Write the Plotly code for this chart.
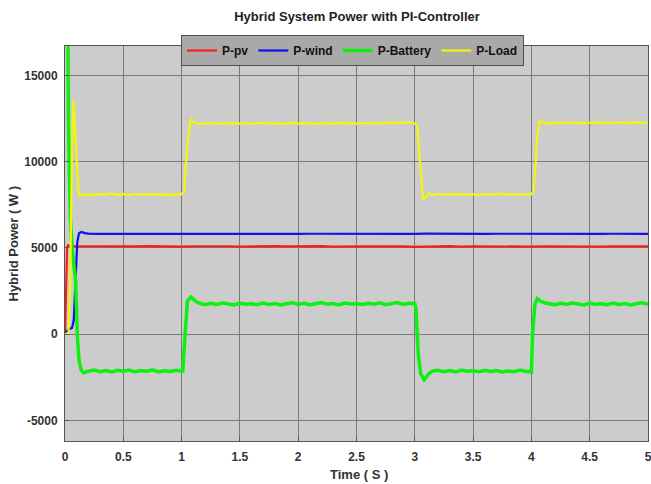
import plotly.graph_objects as go

# ---------------- data ----------------
t_pv = [0, 0.005, 0.012, 0.018, 0.025, 0.04, 0.1, 0.2, 0.3, 0.4, 0.5, 0.6, 0.7, 0.8, 0.9, 1.0,
        1.1, 1.2, 1.3, 1.4, 1.5, 1.6, 1.7, 1.8, 1.9, 2.0, 2.1, 2.2, 2.3, 2.4, 2.5, 2.6, 2.7,
        2.8, 2.9, 3.0, 3.1, 3.2, 3.3, 3.4, 3.5, 3.6, 3.7, 3.8, 3.9, 4.0, 4.1, 4.2, 4.3, 4.4,
        4.5, 4.6, 4.7, 4.8, 4.9, 5.0]
p_pv = [0, 1500, 4000, 5000, 5150, 5100, 5090, 5080, 5100, 5070, 5090, 5080, 5100, 5080, 5090, 5070,
        5090, 5100, 5080, 5090, 5070, 5090, 5080, 5100, 5080, 5090, 5080, 5100, 5070, 5090, 5080, 5090,
        5080, 5100, 5080, 5060, 5090, 5080, 5100, 5070, 5090, 5080, 5090, 5100, 5080, 5070,
        5090, 5080, 5100, 5080, 5090, 5070, 5090, 5080, 5100, 5080]

t_wind = [0, 0.02, 0.04, 0.06, 0.075, 0.09, 0.105, 0.12, 0.14, 0.17, 0.2, 0.3, 0.4, 0.5, 0.6,
          0.7, 0.8, 0.9, 1.0, 1.1, 1.2, 1.3, 1.4, 1.5, 1.6, 1.7, 1.8, 1.9, 2.0, 2.1, 2.2, 2.3,
          2.4, 2.5, 2.6, 2.7, 2.8, 2.9, 3.0, 3.1, 3.2, 3.3, 3.4, 3.5, 3.6, 3.7, 3.8, 3.9, 4.0,
          4.1, 4.2, 4.3, 4.4, 4.5, 4.6, 4.7, 4.8, 4.9, 5.0]
p_wind = [0, 200, 300, 350, 800, 3500, 5300, 5850, 5920, 5850, 5820, 5810, 5815, 5805, 5810,
          5815, 5810, 5805, 5815, 5810, 5810, 5805, 5815, 5810, 5810, 5815, 5805, 5810, 5810, 5815,
          5810, 5805, 5810, 5815, 5810, 5805, 5810, 5815, 5810, 5820, 5810, 5815, 5810, 5805, 5810,
          5815, 5810, 5805, 5815, 5810, 5810, 5805, 5815, 5810, 5810, 5815, 5805, 5810, 5810]

t_bat = [0.018, 0.022, 0.03, 0.04, 0.046, 0.06, 0.08, 0.091, 0.1, 0.105, 0.12, 0.14, 0.16, 0.2,
         0.25, 0.3, 0.35, 0.4, 0.45, 0.5, 0.55, 0.6, 0.65, 0.7, 0.75, 0.8, 0.85, 0.9, 0.95, 1.0,
         1.01, 1.03, 1.05, 1.08, 1.12, 1.15, 1.2, 1.25, 1.3, 1.35, 1.4, 1.45, 1.5, 1.55, 1.6,
         1.65, 1.7, 1.75, 1.8, 1.85, 1.9, 1.95, 2.0, 2.05, 2.1, 2.15, 2.2, 2.25, 2.3, 2.35, 2.4,
         2.45, 2.5, 2.55, 2.6, 2.65, 2.7, 2.75, 2.8, 2.85, 2.9, 2.95, 3.0, 3.01, 3.03, 3.05,
         3.08, 3.12, 3.15, 3.2, 3.25, 3.3, 3.35, 3.4, 3.45, 3.5, 3.55, 3.6, 3.65, 3.7, 3.75,
         3.8, 3.85, 3.9, 3.95, 4.0, 4.01, 4.03, 4.05, 4.08, 4.12, 4.15, 4.2, 4.25, 4.3, 4.35,
         4.4, 4.45, 4.5, 4.55, 4.6, 4.65, 4.7, 4.75, 4.8, 4.85, 4.9, 4.95, 5.0]
p_bat = [25000, 16700, 12000, 8500, 6800, 5000, 3800, 3100, 1200, 0, -1500, -2100, -2250, -2150,
         -2080, -2180, -2120, -2200, -2100, -2160, -2090, -2190, -2120, -2150, -2080, -2200, -2130, -2170, -2100, -2180,
         -2150, 0, 1900, 2150, 1900, 1800, 1700, 1780, 1720, 1800, 1740, 1690, 1790, 1730, 1760,
         1700, 1800, 1720, 1770, 1690, 1760, 1810, 1720, 1780, 1700, 1760, 1820, 1730, 1770, 1690, 1800,
         1740, 1760, 1710, 1790, 1730, 1810, 1700, 1760, 1830, 1720, 1780, 1760, 1500, -1200, -2300,
         -2650, -2300, -2150, -2100, -2180, -2120, -2200, -2090, -2160, -2130, -2190, -2100, -2170, -2110, -2200,
         -2140, -2180, -2090, -2160, -2200, 0, 1700, 2050, 1900, 1800, 1750, 1700, 1780, 1720, 1800,
         1740, 1690, 1790, 1730, 1760, 1700, 1800, 1720, 1770, 1690, 1760, 1810, 1730]

t_load = [0, 0.03, 0.045, 0.06, 0.072, 0.085, 0.1, 0.115, 0.125, 0.15, 0.2, 0.25, 0.3, 0.35,
          0.4, 0.45, 0.5, 0.55, 0.6, 0.65, 0.7, 0.75, 0.8, 0.85, 0.9, 0.95, 1.0, 1.02, 1.05,
          1.075, 1.085, 1.1, 1.15, 1.2, 1.25, 1.3, 1.35, 1.4, 1.45, 1.5, 1.55, 1.6, 1.65, 1.7,
          1.75, 1.8, 1.85, 1.9, 1.95, 2.0, 2.05, 2.1, 2.15, 2.2, 2.25, 2.3, 2.35, 2.4, 2.45,
          2.5, 2.55, 2.6, 2.65, 2.7, 2.75, 2.8, 2.85, 2.9, 2.95, 2.99, 3.02, 3.05, 3.07, 3.09,
          3.12, 3.15, 3.2, 3.25, 3.3, 3.35, 3.4, 3.45, 3.5, 3.55, 3.6, 3.65, 3.7, 3.75, 3.8,
          3.85, 3.9, 3.95, 4.0, 4.02, 4.05, 4.07, 4.09, 4.13, 4.2, 4.25, 4.3, 4.35, 4.4, 4.45,
          4.5, 4.55, 4.6, 4.65, 4.7, 4.75, 4.8, 4.85, 4.9, 4.95, 5.0]
p_load = [0, 50, 3000, 11000, 13550, 12000, 9500, 8300, 8020, 8080, 8100, 8060, 8120, 8080,
          8150, 8070, 8110, 8060, 8120, 8090, 8070, 8130, 8080, 8100, 8060, 8110, 8100, 8250, 11000,
          12300, 12440, 12300, 12180, 12220, 12200, 12240, 12190, 12230, 12210, 12200, 12240, 12190, 12220, 12250,
          12200, 12230, 12190, 12220, 12240, 12200, 12230, 12210, 12190, 12230, 12220, 12200, 12240, 12210, 12230,
          12200, 12220, 12250, 12200, 12230, 12220, 12260, 12240, 12270, 12250, 12250, 12100, 9500, 7850, 7900,
          8150, 8050, 8120, 8080, 8110, 8070, 8130, 8090, 8100, 8060, 8120, 8080, 8100, 8140, 8070,
          8110, 8080, 8100, 8100, 8300, 11500, 12350, 12300, 12200, 12260, 12230, 12280, 12240, 12260, 12220,
          12250, 12270, 12230, 12260, 12240, 12280, 12230, 12250, 12270, 12240, 12250]

x_ticks = [0, 0.5, 1, 1.5, 2, 2.5, 3, 3.5, 4, 4.5, 5]
x_tick_labels = ["0", "0.5", "1", "1.5", "2", "2.5", "3", "3.5", "4", "4.5", "5"]
y_ticks = [-5000, 0, 5000, 10000, 15000]
y_tick_labels = ["-5000", "0", "5000", "10000", "15000"]

FONT = "Liberation Sans"

# plot area geometry in pixels
L, R, T, B = 65, 3, 46, 43
W, H = 651, 484
PW, PH = W - L - R, H - T - B

fig = go.Figure()
fig.add_trace(go.Scatter(x=t_pv, y=p_pv, mode="lines", name="P-pv",
                         line=dict(color="#ff1a1a", width=2.2)))
fig.add_trace(go.Scatter(x=t_wind, y=p_wind, mode="lines", name="P-wind",
                         line=dict(color="#1010f0", width=2.2)))
fig.add_trace(go.Scatter(x=t_bat, y=p_bat, mode="lines", name="P-Battery",
                         line=dict(color="#10f010", width=3.5)))
fig.add_trace(go.Scatter(x=t_load, y=p_load, mode="lines", name="P-Load",
                         line=dict(color="#f5f50a", width=2.2)))

axis_common = dict(showgrid=True, gridcolor="#7a7a7a", gridwidth=1, zeroline=False,
                   showline=True, linecolor="#555555", linewidth=1, mirror=True,
                   ticks="inside", ticklen=4, tickcolor="#555555",
                   ticklabeloverflow="allow", automargin=False,
                   tickfont=dict(family=FONT, size=12, color="#333333", weight="bold"))

fig.update_layout(
    width=W, height=H,
    margin=dict(l=L, r=R, t=T, b=B, autoexpand=False),
    paper_bgcolor="white", plot_bgcolor="#cccccc",
    font=dict(family=FONT, color="#333333"),
    title=dict(text="Hybrid System Power with PI-Controller",
               x=(357 - L) / PW, xref="paper", xanchor="center",
               y=1 - 16 / H, yref="container", yanchor="middle",
               font=dict(family=FONT, size=13, color="#222222", weight="bold")),
    xaxis=dict(range=[0, 5], tickvals=x_ticks, ticktext=x_tick_labels,
               ticklabelstandoff=5, **axis_common),
    yaxis=dict(range=[-6200, 16700], tickvals=y_ticks, ticktext=y_tick_labels,
               ticklabelstandoff=4, **axis_common),
    legend=dict(orientation="h", x=(181 - L) / PW, xanchor="left",
                y=(H - B - 35) / PH, yanchor="top",
                bgcolor="#a9a9a9", bordercolor="#505050", borderwidth=1,
                font=dict(family=FONT, size=12, color="#111111", weight="bold"),
                itemwidth=30, tracegroupgap=0),
    showlegend=True,
    annotations=[
        dict(text="Time ( S )", xref="paper", yref="paper",
             x=(359 - L) / PW, y=-(474 - (H - B)) / PH, xanchor="center", yanchor="middle",
             showarrow=False, font=dict(family=FONT, size=13, color="#333333", weight="bold")),
        dict(text="Hybrid Power ( W )", xref="paper", yref="paper",
             x=-(L - 13) / PW, y=0.5, xanchor="center", yanchor="middle", textangle=-90,
             showarrow=False, font=dict(family=FONT, size=13, color="#333333", weight="bold")),
    ],
)

fig.write_html("out.html")
